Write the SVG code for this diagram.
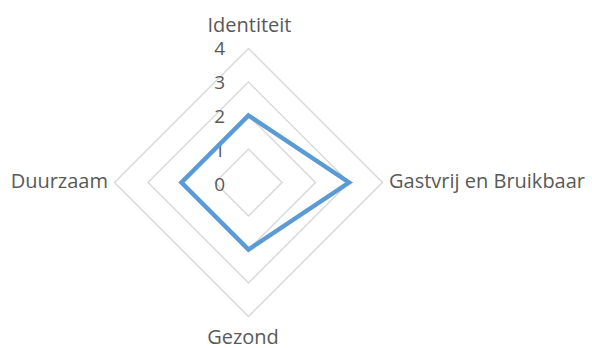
<svg xmlns="http://www.w3.org/2000/svg" width="592" height="348" viewBox="0 0 592 348">
<style>
.grid{fill:none;stroke:#d9d9d9;stroke-width:1.5}
.data{fill:none;stroke:#5b9bd5;stroke-width:4.5;stroke-linejoin:miter}
.lbl{font-family:"Open Sans","Liberation Sans",sans-serif;font-size:20px;fill:#595959}
.tick{font-family:"Open Sans","Liberation Sans",sans-serif;font-size:19px;fill:#595959;text-anchor:end}
</style>
<rect width="592" height="348" fill="#ffffff"/>
<g id="grid">
<polygon class="grid" points="248.5,48.5 382.5,182.5 248.5,316.5 114.5,182.5"/>
<polygon class="grid" points="248.5,82 349,182.5 248.5,283 148,182.5"/>
<polygon class="grid" points="248.5,115.5 315.5,182.5 248.5,249.5 181.5,182.5"/>
<polygon class="grid" points="248.5,149 282,182.5 248.5,216 215,182.5"/>
</g>
<g id="ticks">
<text class="tick" x="225" y="55">4</text>
<text class="tick" x="225" y="88.5">3</text>
<text class="tick" x="225" y="123">2</text>
<text class="tick" x="225" y="157">1</text>
<text class="tick" x="225" y="190.5">0</text>
</g>
<g id="series">
<polygon class="data" points="248.5,115.5 349,182.5 248.5,249.5 181.5,182.5"/>
</g>
<g id="node-identiteit"><text class="lbl" x="249.5" y="31.5" text-anchor="middle">Identiteit</text></g>
<g id="node-gastvrij"><text class="lbl" x="389" y="187.5">Gastvrij en Bruikbaar</text></g>
<g id="node-gezond"><text class="lbl" x="243" y="343.5" text-anchor="middle">Gezond</text></g>
<g id="node-duurzaam"><text class="lbl" x="108" y="188" text-anchor="end">Duurzaam</text></g>
</svg>
